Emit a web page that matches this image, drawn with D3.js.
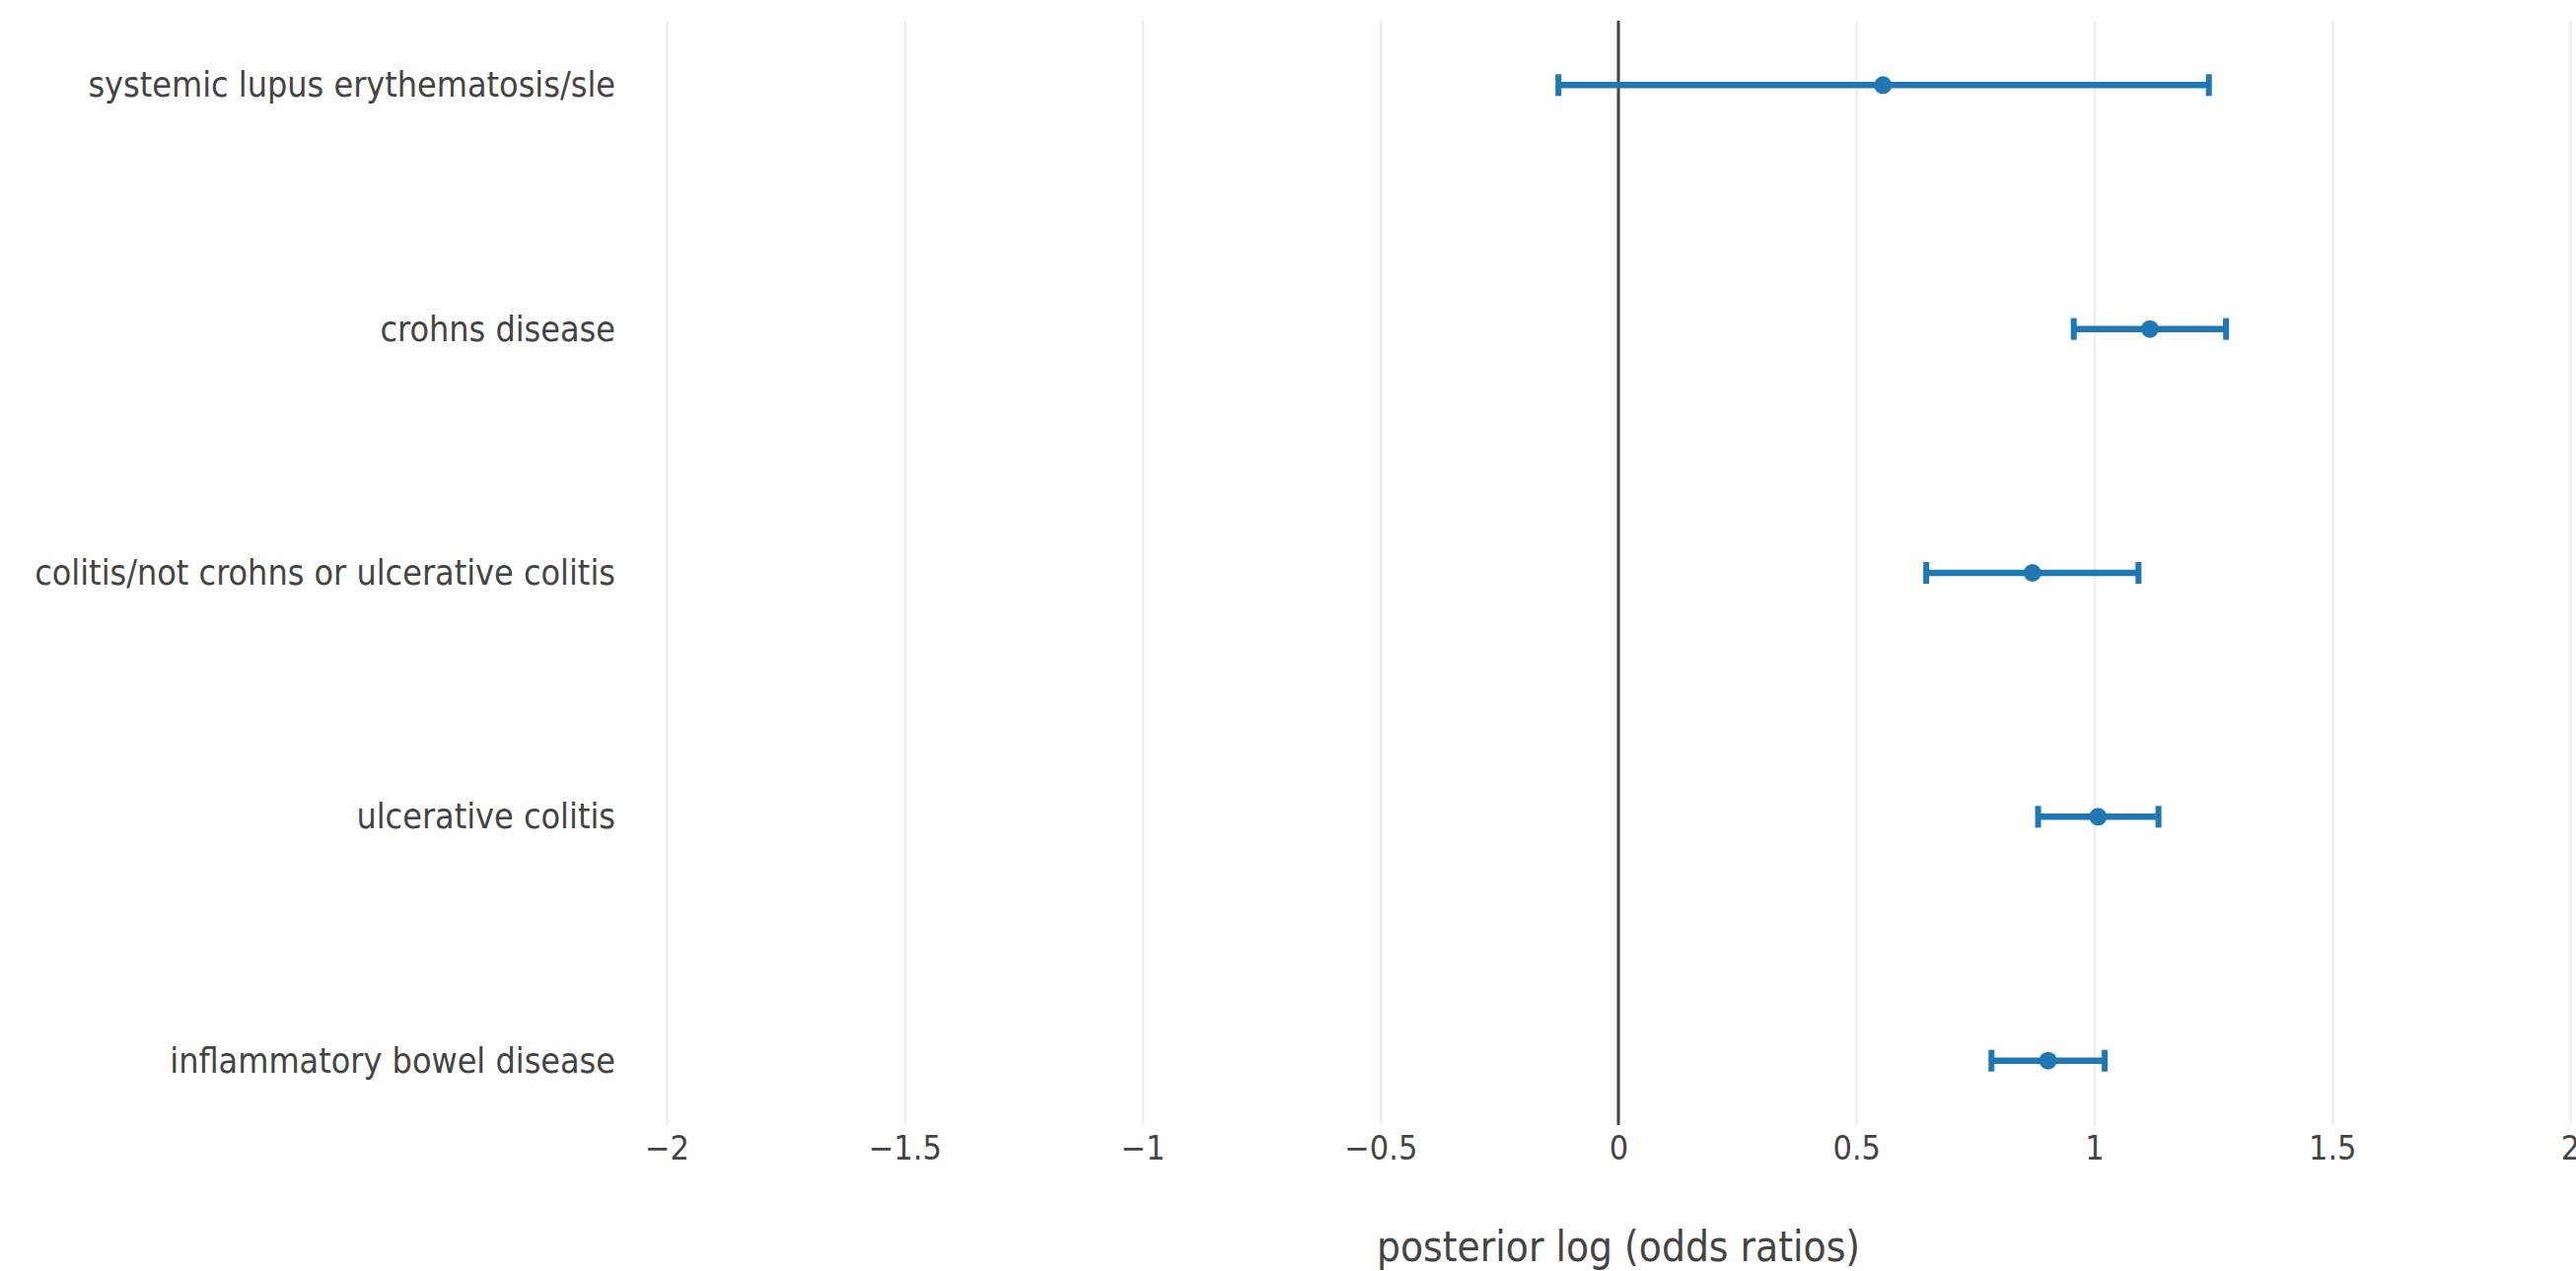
<!DOCTYPE html>
<html>
<head>
<meta charset="utf-8">
<script src="https://cdn.jsdelivr.net/npm/d3@7"></script>
<style>
  body { margin: 0; background: #fff; }
  svg { display: block; }
  text { font-family: "DejaVu Sans Condensed", "DejaVu Sans", sans-serif; fill: #444; }
</style>
</head>
<body>
<svg id="chart"></svg>
<script>
var categories = [
  "inflammatory bowel disease",
  "ulcerative colitis",
  "colitis/not crohns or ulcerative colitis",
  "crohns disease",
  "systemic lupus erythematosis/sle"
];
var estimate = [0.903, 1.008, 0.870, 1.117, 0.556];
var lower    = [0.784, 0.882, 0.647, 0.957, -0.126];
var upper    = [1.022, 1.135, 1.093, 1.277, 1.241];
var xTicks = [-2, -1.5, -1, -0.5, 0, 0.5, 1, 1.5, 2];
var xTitle = "posterior log (odds ratios)";

var width = 2612, height = 1289;
var margin = {top: 21, right: 6, bottom: 148, left: 676};
var blue = "#1f77b4";

var svg = d3.select("#chart").attr("width", width).attr("height", height);

var x = d3.scaleLinear().domain([-2, 2]).range([margin.left, width - margin.right]);
var y = d3.scalePoint().domain(categories)
    .range([height - margin.bottom, margin.top])
    .padding(0.264);

// grid + x labels
var xAxis = svg.append("g")
    .attr("transform", "translate(0," + (height - margin.bottom) + ")")
    .call(d3.axisBottom(x).tickValues(xTicks)
      .tickFormat(d3.format(""))
      .tickSizeInner(-(height - margin.bottom - margin.top))
      .tickSizeOuter(0)
      .tickPadding(11));
xAxis.select(".domain").remove();
xAxis.selectAll(".tick line").attr("stroke", "#eee").attr("stroke-width", 2.5);
xAxis.selectAll(".tick text").style("font-size", "34px").attr("fill", "#444");

// zero line
svg.append("line")
    .attr("x1", x(0)).attr("x2", x(0))
    .attr("y1", margin.top).attr("y2", height - margin.bottom)
    .attr("stroke", "#444").attr("stroke-width", 3);

// y labels
var yAxis = svg.append("g")
    .attr("transform", "translate(" + margin.left + ",0)")
    .call(d3.axisLeft(y).tickSize(0).tickPadding(52));
yAxis.select(".domain").remove();
yAxis.selectAll(".tick text").style("font-size", "35.6px").attr("fill", "#444");

// error bars
var rows = categories.map(function(c, i) {
  return {cat: c, est: estimate[i], lo: lower[i], hi: upper[i]};
});

var g = svg.append("g");
var capH = 11;

g.selectAll(".bar").data(rows).enter().append("line")
    .attr("x1", function(d) { return x(d.lo); })
    .attr("x2", function(d) { return x(d.hi); })
    .attr("y1", function(d) { return y(d.cat); })
    .attr("y2", function(d) { return y(d.cat); })
    .attr("stroke", blue).attr("stroke-width", 6.5);

["lo", "hi"].forEach(function(k) {
  g.selectAll(".cap-" + k).data(rows).enter().append("line")
      .attr("x1", function(d) { return x(d[k]); })
      .attr("x2", function(d) { return x(d[k]); })
      .attr("y1", function(d) { return y(d.cat) - capH; })
      .attr("y2", function(d) { return y(d.cat) + capH; })
      .attr("stroke", blue).attr("stroke-width", 6);
});

g.selectAll(".pt").data(rows).enter().append("circle")
    .attr("cx", function(d) { return x(d.est); })
    .attr("cy", function(d) { return y(d.cat); })
    .attr("r", 9)
    .attr("fill", blue);

// x title
svg.append("text")
    .attr("x", (x.range()[0] + x.range()[1]) / 2)
    .attr("y", 1279)
    .attr("text-anchor", "middle")
    .style("font-size", "42px")
    .text(xTitle);
</script>
</body>
</html>
